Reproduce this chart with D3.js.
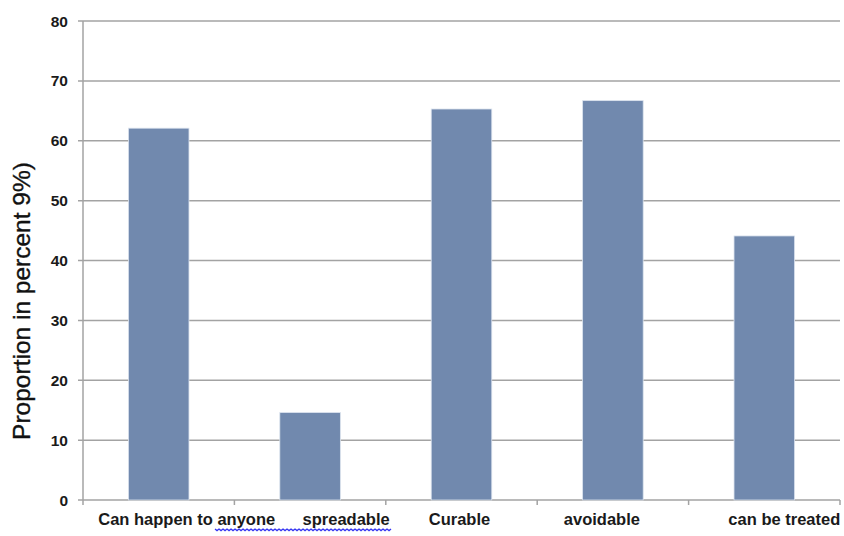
<!DOCTYPE html>
<html>
<head>
<meta charset="utf-8">
<script src="https://cdn.jsdelivr.net/npm/d3@7"></script>
<style>
  html, body { margin: 0; padding: 0; background: #fff; }
  svg { display: block; font-family: "Liberation Sans", Arial, sans-serif; }
</style>
</head>
<body>
<svg id="chart" width="844" height="536"></svg>
<script>
// Perceptions of the illness, share of respondents agreeing (%)
const categories = ["Can happen to anyone", "spreadable", "Curable", "avoidable", "can be treated"];
const proportions = [62.1, 14.6, 65.3, 66.7, 44.1];
const yTicks = [0, 10, 20, 30, 40, 50, 60, 70, 80];
const yTitle = "Proportion in percent 9%)";

// horizontal nudges for the category labels
const labelShift = [28, 36, -2, -11, 20];

const svg = d3.select("#chart");
const margin = { left: 83, right: 4, top: 21, bottom: 36 };
const W = 844, H = 536;

const x = d3.scaleBand()
  .domain(categories)
  .range([margin.left, W - margin.right])
  .paddingInner(0.6)
  .paddingOuter(0.3);

const y = d3.scaleLinear()
  .domain([0, 80])
  .range([H - margin.bottom, margin.top]);

const gridColor = "#a3a3a3";

// gridlines with short ticks left of the value axis
svg.append("g")
  .selectAll("line")
  .data(yTicks)
  .join("line")
  .attr("x1", margin.left - 5)
  .attr("x2", W - margin.right)
  .attr("y1", d => y(d))
  .attr("y2", d => y(d))
  .attr("stroke", gridColor)
  .attr("stroke-width", 1.5);

// value axis line
svg.append("line")
  .attr("x1", margin.left).attr("x2", margin.left)
  .attr("y1", y(80)).attr("y2", y(0))
  .attr("stroke", gridColor).attr("stroke-width", 1.5);

// value labels
svg.append("g")
  .selectAll("text")
  .data(yTicks)
  .join("text")
  .attr("x", margin.left - 15)
  .attr("y", d => y(d))
  .attr("dy", "0.36em")
  .attr("text-anchor", "end")
  .attr("font-size", 15.5)
  .attr("font-weight", "bold")
  .attr("fill", "#1a1a1a")
  .text(d => d);

// category axis ticks at band boundaries
const step = x.step();
const boundaries = d3.range(categories.length + 1).map(i => margin.left + i * step);
svg.append("g")
  .selectAll("line")
  .data(boundaries)
  .join("line")
  .attr("x1", d => d).attr("x2", d => d)
  .attr("y1", y(0)).attr("y2", y(0) + 5)
  .attr("stroke", gridColor).attr("stroke-width", 1.5);

// bars
svg.append("g")
  .selectAll("rect")
  .data(categories)
  .join("rect")
  .attr("x", d => x(d))
  .attr("width", x.bandwidth())
  .attr("y", (d, i) => y(proportions[i]))
  .attr("height", (d, i) => y(0) - y(proportions[i]))
  .attr("fill", "#7189ae")
  .attr("stroke", "#dbe3ee")
  .attr("stroke-width", 0.8);

// category labels
const catLabels = svg.append("g")
  .selectAll("text")
  .data(categories)
  .join("text")
  .attr("x", (d, i) => x(d) + x.bandwidth() / 2 + labelShift[i])
  .attr("y", H - 11)
  .attr("text-anchor", "middle")
  .attr("font-size", 16.5)
  .attr("font-weight", "bold")
  .attr("fill", "#1a1a1a")
  .text(d => d);

// wavy proofing underline beneath the first two labels
const n0 = catLabels.nodes()[0].getBBox();
const n1 = catLabels.nodes()[1].getBBox();
const wx0 = n0.x + n0.width * 0.66, wx1 = n1.x + n1.width;
const wy = H - 7;
const wave = d3.path();
wave.moveTo(wx0, wy);
for (let px = wx0, k = 0; px < wx1; px += 2, k++) {
  wave.lineTo(px + 2, wy + (k % 2 ? 0 : 1.6));
}
svg.append("path")
  .attr("d", wave.toString())
  .attr("fill", "none")
  .attr("stroke", "#3434f2")
  .attr("stroke-width", 1.3);

// value axis title
svg.append("text")
  .attr("transform", `translate(30, 301) rotate(-90)`)
  .attr("text-anchor", "middle")
  .attr("font-size", 24.5)
  .attr("fill", "#111")
  .attr("stroke", "#111")
  .attr("stroke-width", 0.35)
  .text(yTitle);
</script>
</body>
</html>
